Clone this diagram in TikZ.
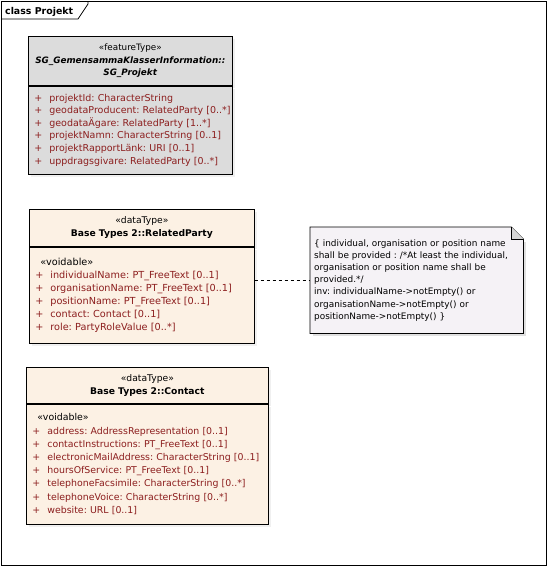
\documentclass[tikz,border=0pt]{standalone}
\usepackage{fontspec}
\setmainfont{DejaVu Sans}
\usetikzlibrary{positioning, calc, shadows, backgrounds}
\definecolor{umlattr}{RGB}{140, 30, 30}
\definecolor{umlgray}{RGB}{220, 220, 220}
\definecolor{umlcream}{RGB}{252, 241, 228}
\definecolor{umlnote}{RGB}{245, 242, 246}
\definecolor{umlfold}{RGB}{214, 214, 214}
\newcommand{\umlplus}[1]{\mbox{\makebox[15pt][l]{+}#1}}
\newcommand{\umlvoid}{\hspace*{5pt}\textcolor{black}{«voidable»}}

\begin{document}
\frenchspacing
\begin{tikzpicture}[x=1pt, y=-1pt,
        clshead/.style={draw, line width=0.7pt, anchor=north west,
            inner sep=0pt, align=center,
            font=\fontsize{9.2}{12.8}\selectfont,
            drop shadow={opacity=0.12, shadow xshift=2.5pt, shadow yshift=-2.5pt}},
        clsattr/.style={draw, line width=0.7pt, anchor=north west,
            inner xsep=6pt, inner ysep=0pt, align=left, text=umlattr,
            drop shadow={opacity=0.12, shadow xshift=2.5pt, shadow yshift=-2.5pt}},
        notebox/.style={anchor=north west, inner xsep=4pt, inner ysep=0pt,
            align=left, font=\fontsize{8.9}{12.2}\selectfont}
    ]
    \useasboundingbox (0, 0) rectangle (548, 568);

    % === Frame with name tab ===
    \draw[line width=0.7pt] (1, 1) rectangle (546, 565);
    \draw[line width=0.7pt] (1, 19) -- (78, 19) -- (88, 4) -- (88, 1);
    \node[anchor=base west, inner sep=0pt,
          font=\fontsize{9.4}{10}\selectfont\bfseries] (title) at (5, 14)
        {class Projekt};

    % === SG_Projekt (featureType) ===
    \node[clshead, fill=umlgray, minimum width=204, minimum height=49,
          text width=204, font=\fontsize{8.8}{12.8}\selectfont] (prhead) at (28, 36)
        {«featureType»\\
         \textbf{\textit{SG\_GemensammaKlasserInformation::}}\\
         \textbf{\textit{SG\_Projekt}}};
    \node[clsattr, fill=umlgray, minimum width=204, minimum height=88,
          text width=192, font=\fontsize{9.5}{12.6}\selectfont]
        (prattr) at (prhead.south west)
        {\umlplus{projektId: CharacterString}\\
         \umlplus{geodataProducent: RelatedParty [0..*]}\\
         \umlplus{geodataÄgare: RelatedParty [1..*]}\\
         \umlplus{projektNamn: CharacterString [0..1]}\\
         \umlplus{projektRapportLänk: URI [0..1]}\\
         \umlplus{uppdragsgivare: RelatedParty [0..*]}};

    % === RelatedParty (dataType) ===
    \node[clshead, fill=umlcream, minimum width=225, minimum height=37,
          text width=225] (rphead) at (29, 209)
        {«dataType»\\
         \textbf{Base Types 2::RelatedParty}};
    \node[clsattr, fill=umlcream, minimum width=225, minimum height=96,
          text width=213, font=\fontsize{9.7}{13}\selectfont]
        (rpattr) at (rphead.south west)
        {\umlvoid\\
         \umlplus{individualName: PT\_FreeText [0..1]}\\
         \umlplus{organisationName: PT\_FreeText [0..1]}\\
         \umlplus{positionName: PT\_FreeText [0..1]}\\
         \umlplus{contact: Contact [0..1]}\\
         \umlplus{role: PartyRoleValue [0..*]}};

    % === Contact (dataType) ===
    \node[clshead, fill=umlcream, minimum width=242, minimum height=36,
          text width=242] (cthead) at (26, 367)
        {«dataType»\\
         \textbf{Base Types 2::Contact}};
    \node[clsattr, fill=umlcream, minimum width=242, minimum height=120,
          text width=230, font=\fontsize{9.4}{13.2}\selectfont]
        (ctattr) at (cthead.south west)
        {\umlvoid\\
         \umlplus{address: AddressRepresentation [0..1]}\\
         \umlplus{contactInstructions: PT\_FreeText [0..1]}\\
         \umlplus{electronicMailAddress: CharacterString [0..1]}\\
         \umlplus{hoursOfService: PT\_FreeText [0..1]}\\
         \umlplus{telephoneFacsimile: CharacterString [0..*]}\\
         \umlplus{telephoneVoice: CharacterString [0..*]}\\
         \umlplus{website: URL [0..1]}};

    % === Constraint note ===
    \node[notebox, minimum width=213, minimum height=106, text width=205]
        (note) at (310, 227)
        {\{ individual, organisation or position name\\
         shall be provided : /*At least the individual,\\
         organisation or position name shall be\\
         provided.*/\\
         inv: individualName->notEmpty() or\\
         organisationName->notEmpty() or\\
         positionName->notEmpty() \}};
    \begin{scope}[on background layer]
    \fill[black, opacity=0.12]
        ($(note.north east)+(2.5pt,-14.5pt)$) rectangle ($(note.south west)+(2.5pt,-2.5pt)$);
    \filldraw[fill=umlnote, line width=0.7pt]
        (note.north west) -- ($(note.north east)+(-12pt,0pt)$)
        -- ($(note.north east)+(0pt,-12pt)$) -- (note.south east)
        -- (note.south west) -- cycle;
    \filldraw[fill=umlfold, line width=0.6pt]
        ($(note.north east)+(-12pt,0pt)$) -- ($(note.north east)+(-12pt,-12pt)$)
        -- ($(note.north east)+(0pt,-12pt)$);
    \end{scope}

    % === Note link ===
    \draw[line width=0.6pt, dash pattern=on 3pt off 3pt]
        (rpattr.east |- note.west) -- (note.west);

\end{tikzpicture}
\end{document}
